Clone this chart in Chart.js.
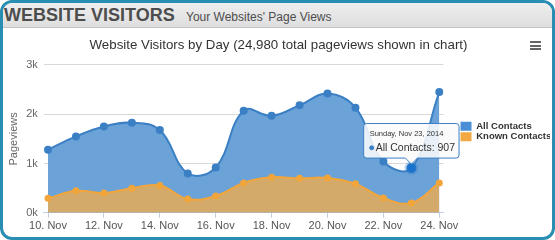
<!DOCTYPE html>
<html>
<head>
<meta charset="utf-8">
<script src="https://cdn.jsdelivr.net/npm/chart.js@4.4.0/dist/chart.umd.min.js"></script>
<style>
  html, body { margin: 0; padding: 0; background: #fff; }
  #box {
    position: relative; width: 555px; height: 240px; box-sizing: border-box;
    border: 3px solid #2a8db2; border-radius: 12px; overflow: hidden; background: #fff;
  }
  #head {
    position: absolute; left: 0; top: 0; right: 0; height: 24px;
    background: linear-gradient(#eeeeee, #dedede); border-bottom: 1px solid #c4c4c4;
    font-family: "Liberation Sans", Arial, sans-serif; color: #4d4d4d; white-space: nowrap;
  }
  #head b { position: absolute; left: 1px; top: 2px; font-size: 18px; letter-spacing: 0; }
  #head span { position: absolute; left: 183px; top: 7px; font-size: 12px; }
  #menu { position: absolute; left: 527px; top: 38px; width: 11px; }
  #menu div { height: 2px; background: #666; margin-bottom: 1.5px; }
  #wrap { position: absolute; left: 0; top: 25px; width: 549px; height: 209px; }
</style>
</head>
<body>
<div id="box">
  <div id="head"><b>WEBSITE VISITORS</b><span>Your Websites' Page Views</span></div>
  <div id="wrap"><canvas id="visitsChart"></canvas></div>
  <div id="menu"><div></div><div></div><div></div></div>
</div>
<script>
// data
var days = [10, 11, 12, 13, 14, 15, 16, 17, 18, 19, 20, 21, 22, 23, 24];
var dayLabels = days.map(d => d + ". Nov");
var allContacts = [1280, 1550, 1753, 1827, 1680, 800, 920, 2073, 1967, 2180, 2420, 2133, 1040, 907, 2450];
var knownContacts = [293, 447, 400, 500, 553, 280, 340, 607, 720, 700, 707, 587, 300, 200, 607];
var yTicks = [0, 1000, 2000, 3000];

var blue = "#3b7fc4";
var orange = "#f2a53a";
var weekdays = ["Sunday", "Monday", "Tuesday", "Wednesday", "Thursday", "Friday", "Saturday"];

var total = allContacts.reduce((a, b) => a + b, 0);

var chart = new Chart("visitsChart", {
    type: "line",
    data: {
        datasets: [{
            label: "All Contacts",
            data: allContacts.map((v, i) => ({x: i, y: v})),
            borderColor: blue,
            backgroundColor: "#6ba3d8",
            pointBackgroundColor: blue,
            pointBorderColor: blue,
            pointRadius: 3,
            pointHoverRadius: 5,
            pointHoverBorderColor: "rgba(59,127,196,0.3)",
            pointHoverBorderWidth: 4,
            borderWidth: 2,
            fill: "origin",
            tension: 0.4,
            order: 2
        }, {
            label: "Known Contacts",
            data: knownContacts.map((v, i) => ({x: i, y: v})),
            borderColor: orange,
            backgroundColor: "#d3aa6a",
            pointBackgroundColor: orange,
            pointBorderColor: orange,
            pointRadius: 2.5,
            borderWidth: 2,
            fill: "origin",
            tension: 0.4,
            order: 1
        }]
    },
    options: {
        responsive: true,
        maintainAspectRatio: false,
        animation: false,
        layout: {
            padding: {left: 4, right: 2, top: 0, bottom: 2}
        },
        interaction: {mode: "nearest", intersect: false},
        plugins: {
            title: {
                display: true,
                text: "Website Visitors by Day (" + total.toLocaleString("en-US") + " total pageviews shown in chart)",
                color: "#333",
                font: {family: "Liberation Sans", size: 13.3, weight: "normal"},
                padding: {top: 9, bottom: 12}
            },
            legend: {
                position: "right",
                sort: (a, b) => a.datasetIndex - b.datasetIndex,
                labels: {
                    boxWidth: 11,
                    boxHeight: 9,
                    padding: 1,
                    color: "#333",
                    font: {family: "Liberation Sans", size: 9.5, weight: "bold"},
                    generateLabels: function(c) {
                        return c.data.datasets.map((ds, i) => ({
                            text: ds.label,
                            fillStyle: i == 0 ? "#4a8fd6" : "#f2a942",
                            strokeStyle: i == 0 ? "#4a8fd6" : "#f2a942",
                            lineWidth: 0,
                            fontColor: "#333",
                            datasetIndex: i
                        }));
                    }
                }
            },
            tooltip: {
                backgroundColor: "rgba(250,250,250,0.88)",
                borderColor: blue,
                borderWidth: 1,
                cornerRadius: 3,
                caretSize: 6,
                caretPadding: 4,
                yAlign: "bottom",
                xAlign: "center",
                padding: {left: 6, right: 4, top: 6, bottom: 4},
                titleColor: "#333",
                bodyColor: "#333",
                titleFont: {family: "Liberation Sans", size: 7.5, weight: "normal"},
                bodyFont: {family: "Liberation Sans", size: 10.5},
                titleMarginBottom: 3,
                usePointStyle: true,
                boxWidth: 4,
                boxHeight: 4,
                filter: item => item.datasetIndex == 0,
                callbacks: {
                    title: function(items) {
                        var d = new Date(2014, 10, days[items[0].dataIndex]);
                        return weekdays[d.getDay()] + ", Nov " + d.getDate() + ", 2014";
                    },
                    label: item => item.dataset.label + ": " + item.parsed.y,
                    labelPointStyle: () => ({pointStyle: "circle", rotation: 0}),
                    labelColor: () => ({borderColor: blue, backgroundColor: blue})
                }
            }
        },
        scales: {
            x: {
                type: "linear",
                min: -0.15,
                max: days.length - 1 + 0.15,
                afterBuildTicks: function(axis) {
                    axis.ticks = days.map((d, i) => ({value: i})).filter(t => t.value % 2 == 0);
                },
                border: {color: "#c0d0e0"},
                grid: {drawOnChartArea: false, drawTicks: true, tickLength: 5, color: "#c0d0e0"},
                ticks: {
                    autoSkip: false,
                    maxRotation: 0,
                    padding: 2,
                    color: "#555",
                    font: {family: "Liberation Sans", size: 11},
                    callback: v => dayLabels[v]
                }
            },
            y: {
                min: 0,
                max: 3000,
                afterBuildTicks: function(axis) {
                    axis.ticks = yTicks.map(v => ({value: v}));
                },
                border: {display: false},
                grid: {color: "#d8d8d8", drawTicks: false},
                ticks: {
                    padding: 6,
                    color: "#666",
                    font: {family: "Liberation Sans", size: 11},
                    callback: v => (v / 1000) + "k"
                },
                title: {
                    display: true,
                    text: "Pageviews",
                    color: "#666",
                    font: {family: "Liberation Sans", size: 11},
                    padding: {top: 0, bottom: 0}
                }
            },
            // empty axis on the right, only keeps a gap before the legend
            gap: {
                type: "linear",
                position: "right",
                display: true,
                grid: {display: false},
                border: {display: false},
                ticks: {display: false},
                afterFit: axis => { axis.width = 16; }
            }
        }
    }
});

// show the hovered point like in the screenshot (23 Nov)
var hoverIdx = days.indexOf(23);
var meta = chart.getDatasetMeta(0);
chart.setActiveElements([{datasetIndex: 0, index: hoverIdx}]);
chart.tooltip.setActiveElements([{datasetIndex: 0, index: hoverIdx}],
    {x: meta.data[hoverIdx].x, y: meta.data[hoverIdx].y});
chart.update();
</script>
</body>
</html>
